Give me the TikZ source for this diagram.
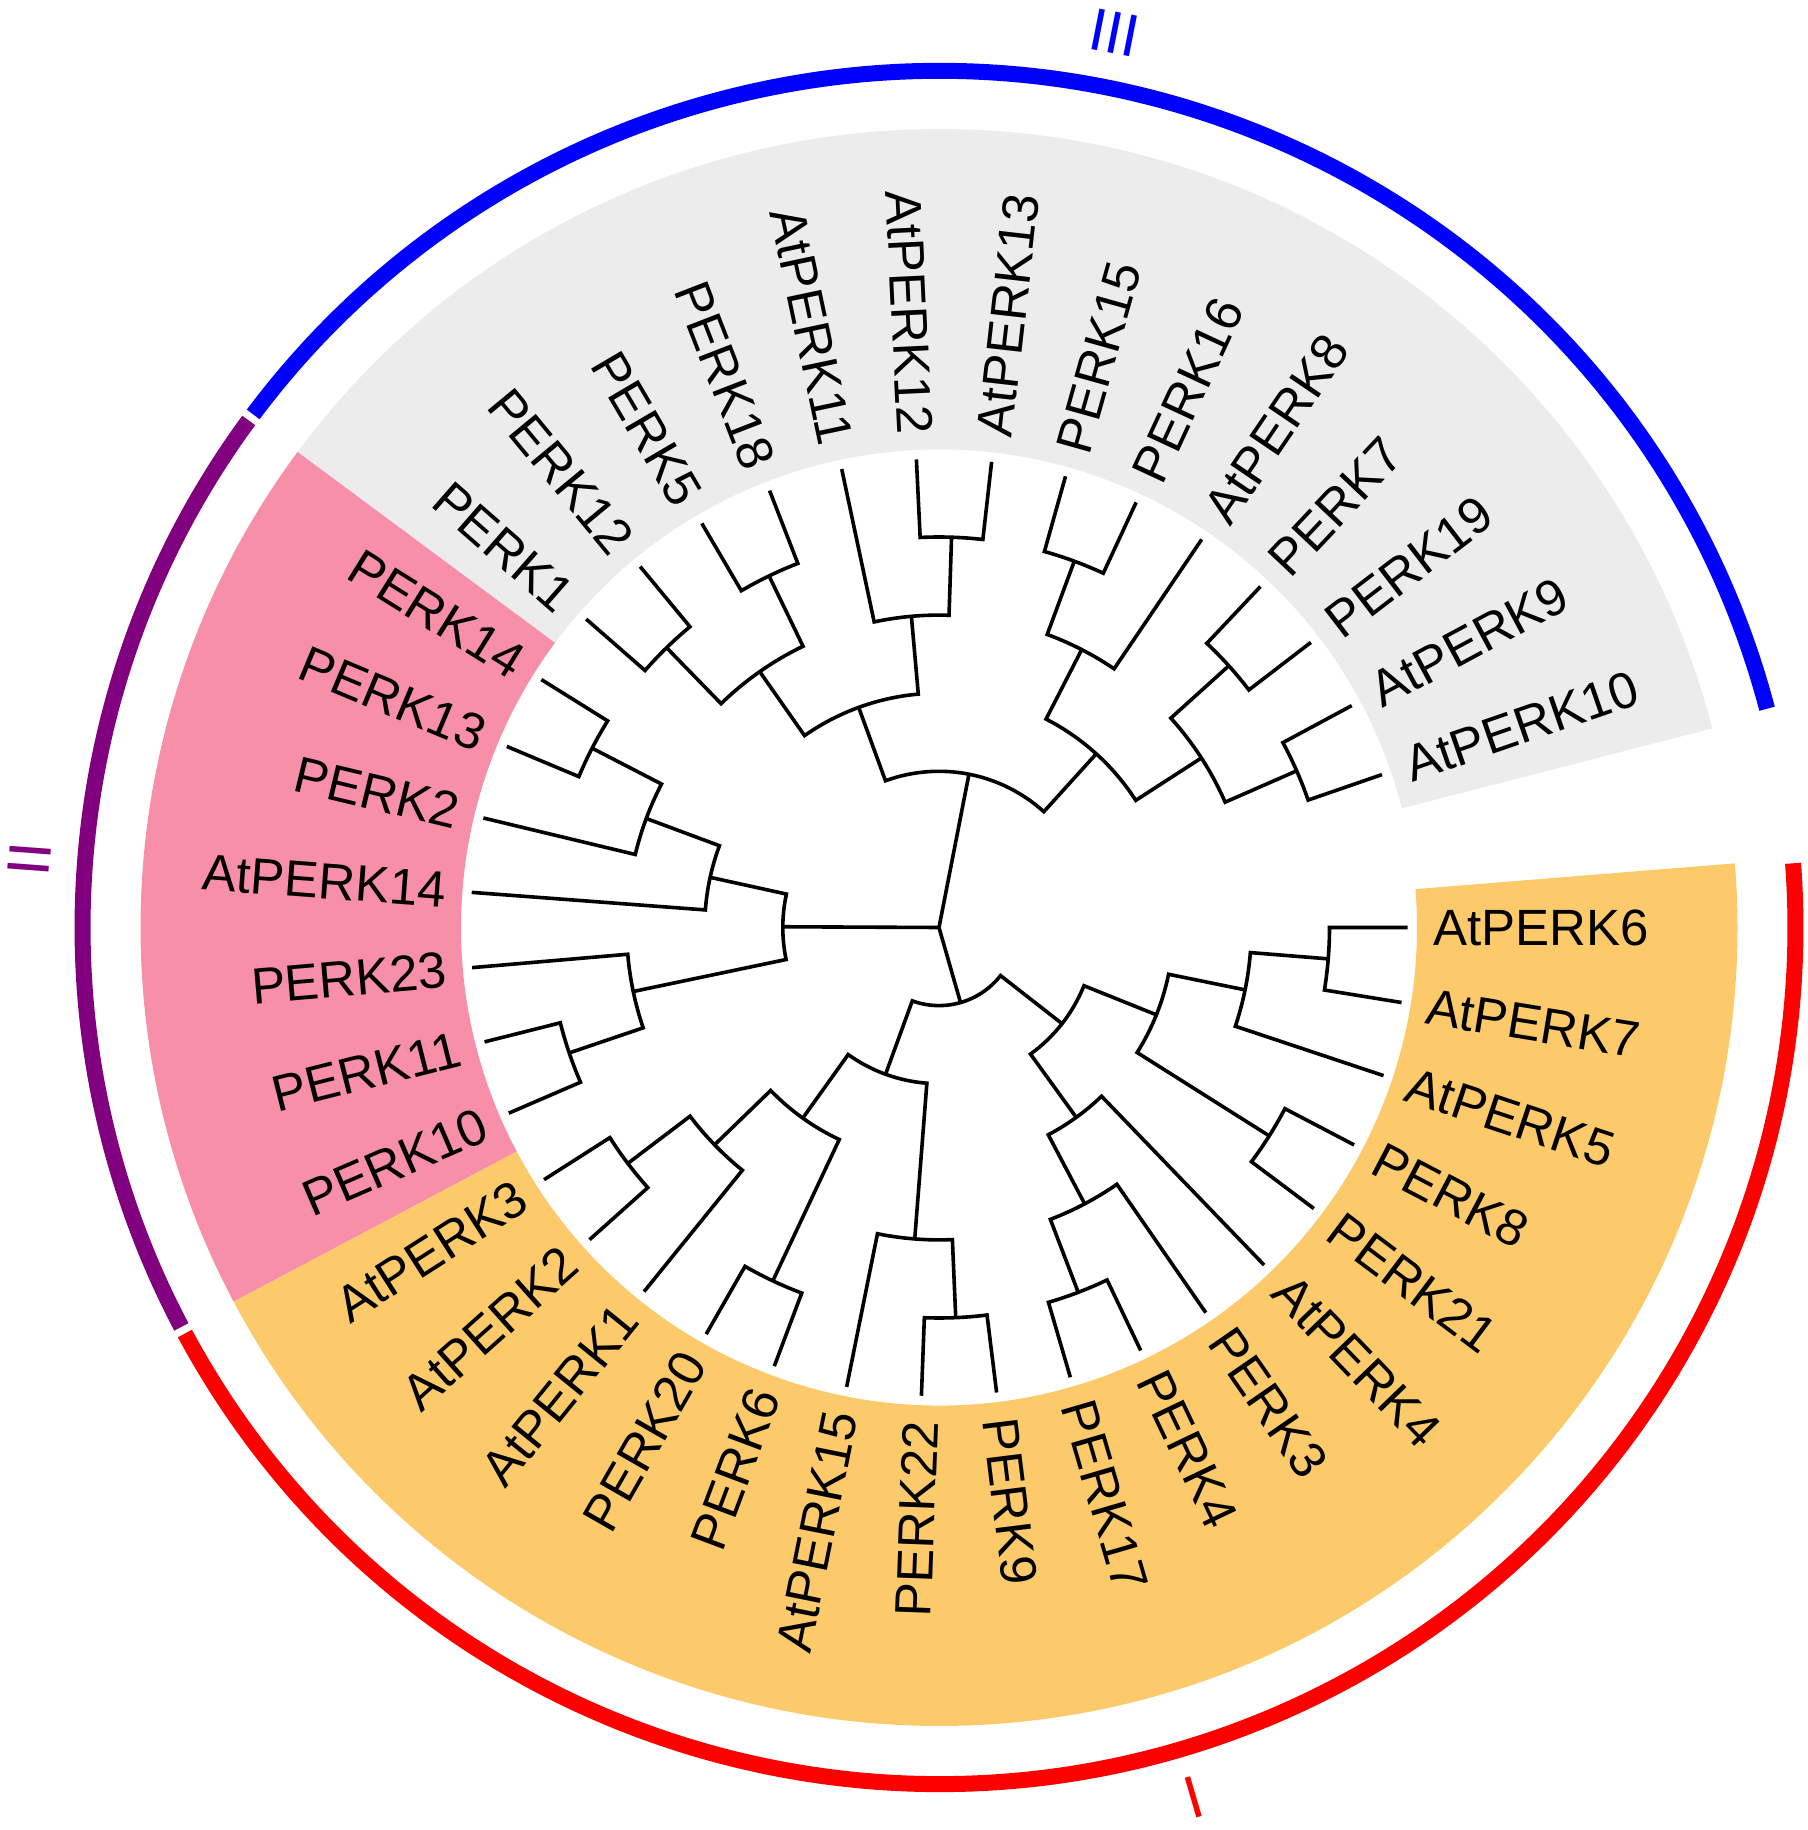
\documentclass[tikz,border=0pt]{standalone}
\usepackage{fontspec}
\setmainfont{Liberation Sans}
\definecolor{secgray}{RGB}{236,236,236}
\definecolor{secpink}{RGB}{248,143,168}
\definecolor{secorange}{RGB}{252,202,107}
\definecolor{grpblue}{RGB}{0,0,255}
\definecolor{grppurple}{RGB}{128,0,128}
\definecolor{grpred}{RGB}{255,0,0}
\def\D{9.215}
\def\U{78.1}
\def\tipR{468.6}
\def\labR{494}
\def\secIn{478}
\def\secOut{798.5}
\def\ringR{856.5}
\newcommand{\inode}[3]{%
  \pgfmathsetmacro\tmpa{-#2*\D}%
  \pgfmathsetmacro\tmpr{#3*\U}%
  \expandafter\xdef\csname nA#1\endcsname{\tmpa}%
  \expandafter\xdef\csname nR#1\endcsname{\tmpr}%
  \coordinate (#1) at (\tmpa:\tmpr);}
\newcommand{\leaf}[3]{%
  \pgfmathsetmacro\tmpa{-#2*\D}%
  \expandafter\xdef\csname nA#1\endcsname{\tmpa}%
  \expandafter\xdef\csname nR#1\endcsname{\tipR}%
  \coordinate (#1) at (\tmpa:\tipR);
  \pgfmathsetmacro\tmpm{mod(\tmpa+720,360)}%
  \pgfmathtruncatemacro\tkflip{and(\tmpm>90,\tmpm<270) ? 1 : 0}%
  \ifnum\tkflip=1
    \pgfmathsetmacro\tkrot{\tmpa+180}%
    \node[lbl,anchor=east,rotate=\tkrot] (L#1) at (\tmpa:\labR) {#3};
  \else
    \node[lbl,anchor=west,rotate=\tmpa] (L#1) at (\tmpa:\labR) {#3};
  \fi}
\newcommand{\clade}[3]{%
  \edef\tkCa{\csname nA#2\endcsname}%
  \edef\tkCb{\csname nA#3\endcsname}%
  \edef\tkPr{\csname nR#1\endcsname}%
  \draw[tree] (#2) -- (\tkCa:\tkPr) arc[start angle=\tkCa, end angle=\tkCb, radius=\tkPr] -- (#3);}
\newcommand{\sector}[3]{%
  \fill[#1] (#2:\secIn) arc[start angle=#2, end angle=#3, radius=\secIn] -- (#3:\secOut) arc[start angle=#3, end angle=#2, radius=\secOut] -- cycle;}
\begin{document}
\begin{tikzpicture}[x=0.5pt,y=0.5pt,
  tree/.style={line width=1.8pt, line join=miter, line cap=butt},
  lbl/.style={font=\fontsize{25.5}{30}\selectfont, inner sep=0pt},
  grplbl/.style={font=\fontsize{30}{36}\selectfont, inner sep=0pt},
  ring/.style={line width=8pt}]
\useasboundingbox (-939,-902.5) rectangle (869,927.5);
% coloured sectors
\sector{secgray}{-345.5625}{-216.5525}
\sector{secpink}{-216.5525}{-152.0475}
\sector{secorange}{-152.0475}{4.6075}
% outer rings
\draw[ring, grpblue] (14.8:\ringR) arc[start angle=14.8, end angle=143.2, radius=\ringR];
\draw[ring, grppurple] (143.7:\ringR) arc[start angle=143.7, end angle=207.8, radius=\ringR];
\draw[ring, grpred] (208.3:\ringR) arc[start angle=208.3, end angle=364.3, radius=\ringR];
\node[grplbl, text=grpblue, rotate=-11.1] (gIII) at (78.9:912) {III};
\node[grplbl, text=grppurple, rotate=85.7] (gII) at (175.7:912) {II};
\node[grplbl, text=grpred, rotate=16.3] (gI) at (-73.7:906) {I};
% leaves
\leaf{a6}{0}{AtPERK6}
\leaf{a7}{1}{AtPERK7}
\leaf{a5}{2}{AtPERK5}
\leaf{p8}{3}{PERK8}
\leaf{p21}{4}{PERK21}
\leaf{a4}{5}{AtPERK4}
\leaf{p3}{6}{PERK3}
\leaf{p4}{7}{PERK4}
\leaf{p17}{8}{PERK17}
\leaf{p9}{9}{PERK9}
\leaf{p22}{10}{PERK22}
\leaf{a15}{11}{AtPERK15}
\leaf{p6}{12}{PERK6}
\leaf{p20}{13}{PERK20}
\leaf{a1}{14}{AtPERK1}
\leaf{a2}{15}{AtPERK2}
\leaf{a3}{16}{AtPERK3}
\leaf{p10}{17}{PERK10}
\leaf{p11}{18}{PERK11}
\leaf{p23}{19}{PERK23}
\leaf{a14}{20}{AtPERK14}
\leaf{p2}{21}{PERK2}
\leaf{p13}{22}{PERK13}
\leaf{p14}{23}{PERK14}
\leaf{p1}{24}{PERK1}
\leaf{p12}{25}{PERK12}
\leaf{p5}{26}{PERK5}
\leaf{p18}{27}{PERK18}
\leaf{a11}{28}{AtPERK11}
\leaf{a12}{29}{AtPERK12}
\leaf{a13}{30}{AtPERK13}
\leaf{p15}{31}{PERK15}
\leaf{p16}{32}{PERK16}
\leaf{a8}{33}{AtPERK8}
\leaf{p7}{34}{PERK7}
\leaf{p19}{35}{PERK19}
\leaf{a9}{36}{AtPERK9}
\leaf{a10}{37}{AtPERK10}
% internal nodes
\inode{nHH}{0.5}{5}
\inode{nFF}{1.25}{4}
\inode{nGG}{3.5}{5}
\inode{nDD}{2.375}{3}
\inode{nJJ}{7.5}{5}
\inode{nII}{6.75}{4}
\inode{nEE}{5.875}{3}
\inode{nCC}{4.125}{2}
\inode{nY}{9.5}{5}
\inode{nZ}{10.25}{4}
\inode{nW}{12.5}{5}
\inode{nU}{15.5}{5}
\inode{nV}{14.75}{4}
\inode{nX}{13.625}{3}
\inode{nAA}{11.9375}{2}
\inode{nBB}{8.03125}{1}
\inode{nO}{22.5}{5}
\inode{nP}{21.75}{4}
\inode{nQ}{20.875}{3}
\inode{nS}{17.5}{5}
\inode{nT}{18.25}{4}
\inode{nR}{19.5625}{2}
\inode{nA}{24.5}{5}
\inode{nB}{26.5}{5}
\inode{nC}{25.5}{4}
\inode{nE}{29.5}{5}
\inode{nD}{28.75}{4}
\inode{nF}{27.125}{3}
\inode{nI}{31.5}{5}
\inode{nJ}{32.25}{4}
\inode{nK}{34.5}{5}
\inode{nL}{36.5}{5}
\inode{nM}{35.5}{4}
\inode{nN}{33.875}{3}
\inode{nG}{30.5}{2}
\coordinate (root) at (0,0);
% clades
\clade{nHH}{a6}{a7}
\clade{nFF}{nHH}{a5}
\clade{nGG}{p8}{p21}
\clade{nDD}{nFF}{nGG}
\clade{nJJ}{p4}{p17}
\clade{nII}{p3}{nJJ}
\clade{nEE}{a4}{nII}
\clade{nCC}{nDD}{nEE}
\clade{nY}{p9}{p22}
\clade{nZ}{nY}{a15}
\clade{nW}{p6}{p20}
\clade{nU}{a2}{a3}
\clade{nV}{a1}{nU}
\clade{nX}{nW}{nV}
\clade{nAA}{nZ}{nX}
\clade{nBB}{nCC}{nAA}
\clade{nS}{p10}{p11}
\clade{nT}{nS}{p23}
\clade{nO}{p13}{p14}
\clade{nP}{p2}{nO}
\clade{nQ}{a14}{nP}
\clade{nR}{nT}{nQ}
\clade{nA}{p1}{p12}
\clade{nB}{p5}{p18}
\clade{nC}{nA}{nB}
\clade{nE}{a12}{a13}
\clade{nD}{a11}{nE}
\clade{nF}{nC}{nD}
\clade{nI}{p15}{p16}
\clade{nJ}{nI}{a8}
\clade{nK}{p7}{p19}
\clade{nL}{a9}{a10}
\clade{nM}{nK}{nL}
\clade{nN}{nJ}{nM}
\clade{nG}{nF}{nN}
\draw[tree] (root) -- (nG);
\draw[tree] (root) -- (nR);
\draw[tree] (root) -- (nBB);
\end{tikzpicture}
\end{document}
